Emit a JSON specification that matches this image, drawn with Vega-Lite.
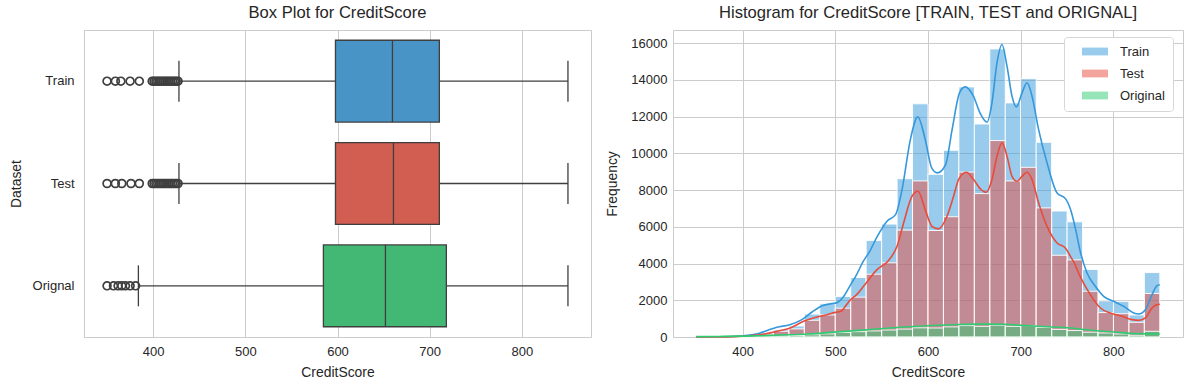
{
  "$schema": "https://vega.github.io/schema/vega-lite/v6.json",
  "background": "white",
  "padding": {"left": 8, "top": 4, "right": 5, "bottom": 5},
  "config": {
    "font": "Liberation Sans",
    "view": {"stroke": "#cccccc", "strokeWidth": 1},
    "axis": {
      "labelFont": "Liberation Sans", "titleFont": "Liberation Sans",
      "labelColor": "#262626", "titleColor": "#262626",
      "labelFontSize": 13, "titleFontSize": 13.9, "titleFontWeight": "normal",
      "gridColor": "#cccccc", "gridWidth": 1, "domain": false, "ticks": false, "labelOverlap": false
    },
    "title": {"font": "Liberation Sans", "fontSize": 16.6, "fontWeight": "normal", "color": "#262626"}
  },
  "datasets": {
    "stats": [
      {"set": "Train", "lo": 428, "q1": 597.8, "med": 659.6, "q3": 710.5, "hi": 850},
      {"set": "Test", "lo": 428, "q1": 597.8, "med": 660.7, "q3": 710.5, "hi": 850},
      {"set": "Orignal", "lo": 384, "q1": 584.7, "med": 652, "q3": 718.1, "hi": 850}
    ],
    "outliers": [
      {"set": "Train", "value": 350}, {"set": "Train", "value": 359}, {"set": "Train", "value": 365}, {"set": "Train", "value": 375}, {"set": "Train", "value": 385},
      {"set": "Train", "value": 399}, {"set": "Train", "value": 401}, {"set": "Train", "value": 403}, {"set": "Train", "value": 405}, {"set": "Train", "value": 407},
      {"set": "Train", "value": 409}, {"set": "Train", "value": 411}, {"set": "Train", "value": 413}, {"set": "Train", "value": 415}, {"set": "Train", "value": 417},
      {"set": "Train", "value": 419}, {"set": "Train", "value": 421}, {"set": "Train", "value": 423}, {"set": "Train", "value": 425}, {"set": "Train", "value": 427},
      {"set": "Test", "value": 350}, {"set": "Test", "value": 359}, {"set": "Test", "value": 366}, {"set": "Test", "value": 376}, {"set": "Test", "value": 385},
      {"set": "Test", "value": 399}, {"set": "Test", "value": 401}, {"set": "Test", "value": 403}, {"set": "Test", "value": 405}, {"set": "Test", "value": 407},
      {"set": "Test", "value": 409}, {"set": "Test", "value": 411}, {"set": "Test", "value": 413}, {"set": "Test", "value": 415}, {"set": "Test", "value": 417},
      {"set": "Test", "value": 419}, {"set": "Test", "value": 421}, {"set": "Test", "value": 423}, {"set": "Test", "value": 425}, {"set": "Test", "value": 427},
      {"set": "Orignal", "value": 350}, {"set": "Orignal", "value": 357}, {"set": "Orignal", "value": 362}, {"set": "Orignal", "value": 366},
      {"set": "Orignal", "value": 370}, {"set": "Orignal", "value": 375}, {"set": "Orignal", "value": 381}
    ],
    "hist": [
      {"set": "Train", "b0": 350, "b1": 366.67, "count": 20},
      {"set": "Train", "b0": 366.67, "b1": 383.33, "count": 30},
      {"set": "Train", "b0": 383.33, "b1": 400, "count": 50},
      {"set": "Train", "b0": 400, "b1": 416.67, "count": 90},
      {"set": "Train", "b0": 416.67, "b1": 433.33, "count": 220},
      {"set": "Train", "b0": 433.33, "b1": 450, "count": 400},
      {"set": "Train", "b0": 450, "b1": 466.67, "count": 600},
      {"set": "Train", "b0": 466.67, "b1": 483.33, "count": 1250},
      {"set": "Train", "b0": 483.33, "b1": 500, "count": 1810},
      {"set": "Train", "b0": 500, "b1": 516.67, "count": 2210},
      {"set": "Train", "b0": 516.67, "b1": 533.33, "count": 3240},
      {"set": "Train", "b0": 533.33, "b1": 550, "count": 5260},
      {"set": "Train", "b0": 550, "b1": 566.67, "count": 6150},
      {"set": "Train", "b0": 566.67, "b1": 583.33, "count": 8620},
      {"set": "Train", "b0": 583.33, "b1": 600, "count": 12700},
      {"set": "Train", "b0": 600, "b1": 616.67, "count": 8860},
      {"set": "Train", "b0": 616.67, "b1": 633.33, "count": 10170},
      {"set": "Train", "b0": 633.33, "b1": 650, "count": 13620},
      {"set": "Train", "b0": 650, "b1": 666.67, "count": 11600},
      {"set": "Train", "b0": 666.67, "b1": 683.33, "count": 15690},
      {"set": "Train", "b0": 683.33, "b1": 700, "count": 12750},
      {"set": "Train", "b0": 700, "b1": 716.67, "count": 14070},
      {"set": "Train", "b0": 716.67, "b1": 733.33, "count": 10600},
      {"set": "Train", "b0": 733.33, "b1": 750, "count": 6860},
      {"set": "Train", "b0": 750, "b1": 766.67, "count": 6275},
      {"set": "Train", "b0": 766.67, "b1": 783.33, "count": 3680},
      {"set": "Train", "b0": 783.33, "b1": 800, "count": 1970},
      {"set": "Train", "b0": 800, "b1": 816.67, "count": 1940},
      {"set": "Train", "b0": 816.67, "b1": 833.33, "count": 1200},
      {"set": "Train", "b0": 833.33, "b1": 850, "count": 3510},
      {"set": "Test", "b0": 350, "b1": 366.67, "count": 15},
      {"set": "Test", "b0": 366.67, "b1": 383.33, "count": 20},
      {"set": "Test", "b0": 383.33, "b1": 400, "count": 35},
      {"set": "Test", "b0": 400, "b1": 416.67, "count": 60},
      {"set": "Test", "b0": 416.67, "b1": 433.33, "count": 160},
      {"set": "Test", "b0": 433.33, "b1": 450, "count": 310},
      {"set": "Test", "b0": 450, "b1": 466.67, "count": 440},
      {"set": "Test", "b0": 466.67, "b1": 483.33, "count": 910},
      {"set": "Test", "b0": 483.33, "b1": 500, "count": 1200},
      {"set": "Test", "b0": 500, "b1": 516.67, "count": 1570},
      {"set": "Test", "b0": 516.67, "b1": 533.33, "count": 2170},
      {"set": "Test", "b0": 533.33, "b1": 550, "count": 3420},
      {"set": "Test", "b0": 550, "b1": 566.67, "count": 4040},
      {"set": "Test", "b0": 566.67, "b1": 583.33, "count": 5820},
      {"set": "Test", "b0": 583.33, "b1": 600, "count": 8500},
      {"set": "Test", "b0": 600, "b1": 616.67, "count": 5800},
      {"set": "Test", "b0": 616.67, "b1": 633.33, "count": 6550},
      {"set": "Test", "b0": 633.33, "b1": 650, "count": 8980},
      {"set": "Test", "b0": 650, "b1": 666.67, "count": 7810},
      {"set": "Test", "b0": 666.67, "b1": 683.33, "count": 10700},
      {"set": "Test", "b0": 683.33, "b1": 700, "count": 8500},
      {"set": "Test", "b0": 700, "b1": 716.67, "count": 9240},
      {"set": "Test", "b0": 716.67, "b1": 733.33, "count": 7030},
      {"set": "Test", "b0": 733.33, "b1": 750, "count": 4450},
      {"set": "Test", "b0": 750, "b1": 766.67, "count": 4200},
      {"set": "Test", "b0": 766.67, "b1": 783.33, "count": 2490},
      {"set": "Test", "b0": 783.33, "b1": 800, "count": 1330},
      {"set": "Test", "b0": 800, "b1": 816.67, "count": 1270},
      {"set": "Test", "b0": 816.67, "b1": 833.33, "count": 800},
      {"set": "Test", "b0": 833.33, "b1": 850, "count": 2370},
      {"set": "Original", "b0": 350, "b1": 366.67, "count": 5},
      {"set": "Original", "b0": 366.67, "b1": 383.33, "count": 10},
      {"set": "Original", "b0": 383.33, "b1": 400, "count": 15},
      {"set": "Original", "b0": 400, "b1": 416.67, "count": 25},
      {"set": "Original", "b0": 416.67, "b1": 433.33, "count": 40},
      {"set": "Original", "b0": 433.33, "b1": 450, "count": 60},
      {"set": "Original", "b0": 450, "b1": 466.67, "count": 85},
      {"set": "Original", "b0": 466.67, "b1": 483.33, "count": 120},
      {"set": "Original", "b0": 483.33, "b1": 500, "count": 170},
      {"set": "Original", "b0": 500, "b1": 516.67, "count": 250},
      {"set": "Original", "b0": 516.67, "b1": 533.33, "count": 290},
      {"set": "Original", "b0": 533.33, "b1": 550, "count": 330},
      {"set": "Original", "b0": 550, "b1": 566.67, "count": 380},
      {"set": "Original", "b0": 566.67, "b1": 583.33, "count": 430},
      {"set": "Original", "b0": 583.33, "b1": 600, "count": 500},
      {"set": "Original", "b0": 600, "b1": 616.67, "count": 490},
      {"set": "Original", "b0": 616.67, "b1": 633.33, "count": 550},
      {"set": "Original", "b0": 633.33, "b1": 650, "count": 620},
      {"set": "Original", "b0": 650, "b1": 666.67, "count": 580},
      {"set": "Original", "b0": 666.67, "b1": 683.33, "count": 650},
      {"set": "Original", "b0": 683.33, "b1": 700, "count": 580},
      {"set": "Original", "b0": 700, "b1": 716.67, "count": 620},
      {"set": "Original", "b0": 716.67, "b1": 733.33, "count": 530},
      {"set": "Original", "b0": 733.33, "b1": 750, "count": 415},
      {"set": "Original", "b0": 750, "b1": 766.67, "count": 350},
      {"set": "Original", "b0": 766.67, "b1": 783.33, "count": 260},
      {"set": "Original", "b0": 783.33, "b1": 800, "count": 220},
      {"set": "Original", "b0": 800, "b1": 816.67, "count": 165},
      {"set": "Original", "b0": 816.67, "b1": 833.33, "count": 95},
      {"set": "Original", "b0": 833.33, "b1": 850, "count": 310}
    ],
    "kde": [
      {"set": "Train", "v": 350, "c": 5}, {"set": "Train", "v": 370, "c": 10}, {"set": "Train", "v": 390, "c": 30},
      {"set": "Train", "v": 400, "c": 60}, {"set": "Train", "v": 410, "c": 120}, {"set": "Train", "v": 419, "c": 218},
      {"set": "Train", "v": 428, "c": 380}, {"set": "Train", "v": 437, "c": 527}, {"set": "Train", "v": 451, "c": 672},
      {"set": "Train", "v": 464, "c": 945}, {"set": "Train", "v": 475, "c": 1362}, {"set": "Train", "v": 486, "c": 1707},
      {"set": "Train", "v": 496, "c": 1816}, {"set": "Train", "v": 502, "c": 1870}, {"set": "Train", "v": 509, "c": 2200},
      {"set": "Train", "v": 516, "c": 2800}, {"set": "Train", "v": 522, "c": 3300}, {"set": "Train", "v": 530, "c": 4100},
      {"set": "Train", "v": 537, "c": 4650}, {"set": "Train", "v": 545, "c": 5450}, {"set": "Train", "v": 556, "c": 6320},
      {"set": "Train", "v": 565, "c": 6665}, {"set": "Train", "v": 572, "c": 8028}, {"set": "Train", "v": 581, "c": 10753},
      {"set": "Train", "v": 589, "c": 11990}, {"set": "Train", "v": 597, "c": 10753}, {"set": "Train", "v": 604, "c": 9210},
      {"set": "Train", "v": 610, "c": 8938}, {"set": "Train", "v": 619, "c": 9390}, {"set": "Train", "v": 626, "c": 11298},
      {"set": "Train", "v": 634, "c": 13300}, {"set": "Train", "v": 640, "c": 13625}, {"set": "Train", "v": 649, "c": 13113},
      {"set": "Train", "v": 656, "c": 12208}, {"set": "Train", "v": 663.6, "c": 11696}, {"set": "Train", "v": 669, "c": 12753},
      {"set": "Train", "v": 674.4, "c": 14933}, {"set": "Train", "v": 679.8, "c": 15930}, {"set": "Train", "v": 685.2, "c": 14748},
      {"set": "Train", "v": 690.6, "c": 13113}, {"set": "Train", "v": 695.3, "c": 12535}, {"set": "Train", "v": 701.4, "c": 13298},
      {"set": "Train", "v": 706.8, "c": 13843}, {"set": "Train", "v": 712.2, "c": 13113}, {"set": "Train", "v": 719.3, "c": 11298},
      {"set": "Train", "v": 728.4, "c": 9483}, {"set": "Train", "v": 739.2, "c": 7848}, {"set": "Train", "v": 748, "c": 7550},
      {"set": "Train", "v": 754, "c": 6900}, {"set": "Train", "v": 759, "c": 5900}, {"set": "Train", "v": 764, "c": 4700},
      {"set": "Train", "v": 771.5, "c": 3488}, {"set": "Train", "v": 780.5, "c": 2762}, {"set": "Train", "v": 789.4, "c": 2217},
      {"set": "Train", "v": 800.2, "c": 1944}, {"set": "Train", "v": 811, "c": 1672}, {"set": "Train", "v": 821.8, "c": 1308},
      {"set": "Train", "v": 827.2, "c": 1254}, {"set": "Train", "v": 834.4, "c": 1490}, {"set": "Train", "v": 841.6, "c": 2308},
      {"set": "Train", "v": 847, "c": 2798}, {"set": "Train", "v": 850, "c": 2850},
      {"set": "Test", "v": 350, "c": 3}, {"set": "Test", "v": 370, "c": 7}, {"set": "Test", "v": 390, "c": 20},
      {"set": "Test", "v": 400, "c": 40}, {"set": "Test", "v": 410, "c": 80}, {"set": "Test", "v": 419, "c": 127},
      {"set": "Test", "v": 437, "c": 309}, {"set": "Test", "v": 451.5, "c": 490}, {"set": "Test", "v": 465.8, "c": 854},
      {"set": "Test", "v": 476.6, "c": 1036}, {"set": "Test", "v": 491, "c": 1217}, {"set": "Test", "v": 500, "c": 1340},
      {"set": "Test", "v": 506, "c": 1400}, {"set": "Test", "v": 512, "c": 1750}, {"set": "Test", "v": 516, "c": 2000},
      {"set": "Test", "v": 523, "c": 2307}, {"set": "Test", "v": 530.5, "c": 2760}, {"set": "Test", "v": 545, "c": 3669},
      {"set": "Test", "v": 557.5, "c": 4168}, {"set": "Test", "v": 566.6, "c": 4939}, {"set": "Test", "v": 573.7, "c": 6213},
      {"set": "Test", "v": 582.7, "c": 7663}, {"set": "Test", "v": 589.2, "c": 7935}, {"set": "Test", "v": 597, "c": 6938},
      {"set": "Test", "v": 604.3, "c": 6028}, {"set": "Test", "v": 611.4, "c": 5886}, {"set": "Test", "v": 620.5, "c": 6573},
      {"set": "Test", "v": 627.6, "c": 7663}, {"set": "Test", "v": 633, "c": 8573}, {"set": "Test", "v": 641.3, "c": 8971},
      {"set": "Test", "v": 649.2, "c": 8573}, {"set": "Test", "v": 656.4, "c": 8066}, {"set": "Test", "v": 662.9, "c": 7881},
      {"set": "Test", "v": 669, "c": 8573}, {"set": "Test", "v": 674.4, "c": 9843}, {"set": "Test", "v": 679.8, "c": 10573},
      {"set": "Test", "v": 685.2, "c": 9843}, {"set": "Test", "v": 690.6, "c": 8753}, {"set": "Test", "v": 696, "c": 8480},
      {"set": "Test", "v": 701.4, "c": 8753}, {"set": "Test", "v": 706.8, "c": 8971}, {"set": "Test", "v": 712.2, "c": 8573},
      {"set": "Test", "v": 719.3, "c": 7303}, {"set": "Test", "v": 728.4, "c": 6028}, {"set": "Test", "v": 739.2, "c": 5123},
      {"set": "Test", "v": 748.1, "c": 4851}, {"set": "Test", "v": 753.5, "c": 4400}, {"set": "Test", "v": 757, "c": 4100},
      {"set": "Test", "v": 764, "c": 3300}, {"set": "Test", "v": 775, "c": 2308}, {"set": "Test", "v": 785.9, "c": 1581},
      {"set": "Test", "v": 796.7, "c": 1308}, {"set": "Test", "v": 809.3, "c": 1127}, {"set": "Test", "v": 820, "c": 945},
      {"set": "Test", "v": 827.2, "c": 908}, {"set": "Test", "v": 834.4, "c": 1036}, {"set": "Test", "v": 841.6, "c": 1581},
      {"set": "Test", "v": 847, "c": 1762}, {"set": "Test", "v": 850, "c": 1780},
      {"set": "Original", "v": 350, "c": 20}, {"set": "Original", "v": 375, "c": 30}, {"set": "Original", "v": 400, "c": 45},
      {"set": "Original", "v": 425, "c": 75}, {"set": "Original", "v": 450, "c": 120}, {"set": "Original", "v": 470, "c": 165},
      {"set": "Original", "v": 495, "c": 250}, {"set": "Original", "v": 525, "c": 360}, {"set": "Original", "v": 559, "c": 490},
      {"set": "Original", "v": 600, "c": 610}, {"set": "Original", "v": 635, "c": 681}, {"set": "Original", "v": 660, "c": 700},
      {"set": "Original", "v": 680, "c": 695}, {"set": "Original", "v": 700, "c": 640}, {"set": "Original", "v": 730, "c": 560},
      {"set": "Original", "v": 753.5, "c": 490}, {"set": "Original", "v": 770, "c": 400}, {"set": "Original", "v": 789, "c": 309},
      {"set": "Original", "v": 800, "c": 270}, {"set": "Original", "v": 825, "c": 182}, {"set": "Original", "v": 850, "c": 164}
    ]
  },
  "spacing": 82,
  "bounds": "flush",
  "resolve": {"scale": {"color": "independent", "x": "independent", "y": "independent"}, "legend": {"color": "independent"}},
  "hconcat": [
    {
      "width": 507,
      "height": 307,
      "title": {"text": "Box Plot for CreditScore", "offset": 8},
      "encoding": {
        "y": {"field": "set", "type": "nominal", "sort": ["Train", "Test", "Orignal"],
              "scale": {"paddingInner": 0, "paddingOuter": 0},
              "axis": {"title": "Dataset", "grid": false, "labelPadding": 10, "titlePadding": 9}}
      },
      "layer": [
        {
          "data": {"name": "stats"},
          "mark": {"type": "rule", "color": "#3f3f3f", "strokeWidth": 1.3},
          "encoding": {
            "x": {"field": "lo", "type": "quantitative", "scale": {"domain": [325, 875], "nice": false, "zero": false},
                  "axis": {"values": [400, 500, 600, 700, 800], "format": "d", "title": "CreditScore", "grid": true, "labelPadding": 8, "titlePadding": 7}},
            "x2": {"field": "hi"}
          }
        },
        {
          "data": {"name": "stats"},
          "mark": {"type": "bar", "height": {"band": 0.8}, "stroke": "#3f3f3f", "strokeWidth": 1.3},
          "encoding": {
            "x": {"field": "q1", "type": "quantitative"},
            "x2": {"field": "q3"},
            "color": {"field": "set", "type": "nominal", "legend": null,
                      "scale": {"domain": ["Train", "Test", "Orignal"], "range": ["#4994c6", "#d25d51", "#42b874"]}}
          }
        },
        {
          "data": {"name": "stats"},
          "mark": {"type": "tick", "color": "#3f3f3f", "thickness": 1.3, "size": 82, "opacity": 1},
          "encoding": {"x": {"field": "med", "type": "quantitative"}}
        },
        {
          "data": {"name": "stats"},
          "mark": {"type": "tick", "color": "#3f3f3f", "thickness": 1.3, "size": 41, "opacity": 1},
          "encoding": {"x": {"field": "lo", "type": "quantitative"}}
        },
        {
          "data": {"name": "stats"},
          "mark": {"type": "tick", "color": "#3f3f3f", "thickness": 1.3, "size": 41, "opacity": 1},
          "encoding": {"x": {"field": "hi", "type": "quantitative"}}
        },
        {
          "data": {"name": "outliers"},
          "mark": {"type": "point", "shape": "circle", "filled": false, "size": 62, "color": "#3f3f3f", "strokeWidth": 1.7, "opacity": 1},
          "encoding": {"x": {"field": "value", "type": "quantitative"}}
        }
      ]
    },
    {
      "width": 510,
      "height": 307,
      "title": {"text": "Histogram for CreditScore [TRAIN, TEST and ORIGNAL]", "offset": 8},
      "layer": [
        {
          "data": {"name": "hist"},
          "mark": {"type": "bar", "fillOpacity": 0.5, "stroke": "white", "strokeWidth": 1, "strokeOpacity": 0.9},
          "encoding": {
            "x": {"field": "b0", "type": "quantitative", "scale": {"domain": [325, 875], "nice": false, "zero": false},
                  "axis": {"values": [400, 500, 600, 700, 800], "format": "d", "title": "CreditScore", "grid": true, "labelPadding": 8, "titlePadding": 7}},
            "x2": {"field": "b1"},
            "y": {"field": "count", "type": "quantitative", "stack": null, "scale": {"domain": [0, 16720], "nice": false},
                  "axis": {"values": [0, 2000, 4000, 6000, 8000, 10000, 12000, 14000, 16000], "format": "d", "title": "Frequency", "grid": true,
                           "labelOverlap": false, "labelBound": false, "labelFlush": false, "labelPadding": 6, "titlePadding": 11}},
            "y2": {"datum": 0},
            "color": {"field": "set", "type": "nominal",
                      "scale": {"domain": ["Train", "Test", "Original"], "range": ["#3498db", "#e74c3c", "#2ecc71"]},
                      "legend": {"orient": "none", "legendX": 391, "legendY": 7, "title": null,
                                 "symbolType": "M-2,-0.6H2V0.6H-2Z", "symbolSize": 169, "symbolOpacity": 0.5, "symbolStrokeWidth": 0,
                                 "labelFontSize": 13, "labelColor": "#262626", "labelFont": "Liberation Sans",
                                 "padding": 8, "strokeColor": "#d6d6d6", "fillColor": "white", "cornerRadius": 3,
                                 "rowPadding": 8, "symbolOffset": 16.5, "labelOffset": 18.5}}
          }
        },
        {
          "data": {"name": "kde"},
          "mark": {"type": "line", "strokeWidth": 1.6, "interpolate": "monotone"},
          "encoding": {
            "x": {"field": "v", "type": "quantitative"},
            "y": {"field": "c", "type": "quantitative", "axis": {"values": [0, 2000, 4000, 6000, 8000, 10000, 12000, 14000, 16000], "format": "d", "title": "Frequency", "labelOverlap": false}},
            "color": {"field": "set", "type": "nominal", "legend": null}
          }
        }
      ]
    }
  ]
}
